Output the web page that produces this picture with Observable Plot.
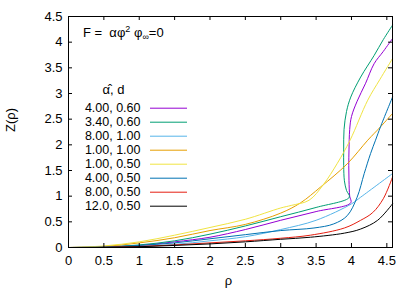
<!DOCTYPE html>
<html><head><meta charset="utf-8">
<script src="https://cdn.jsdelivr.net/npm/d3@7"></script>
<script src="https://cdn.jsdelivr.net/npm/@observablehq/plot@0.6"></script>
<style>body{margin:0;background:#fff}</style>
</head><body><div id="chart"></div>
<script>
const labels = ["4.00, 0.60","3.40, 0.60","8.00, 1.00","1.00, 1.00","1.00, 0.50","4.00, 0.50","8.00, 0.50","12.0, 0.50"];
const colors = ["#9400d3","#009e73","#56b4e9","#e69f00","#f0e442","#0072b2","#e51e10","#000000"];
const xTicks = [0,0.5,1,1.5,2,2.5,3,3.5,4,4.5];
const yTicks = [0,0.5,1,1.5,2,2.5,3,3.5,4,4.5];

const rhoA = [0,0.5,1,1.5,2,2.5,3,3.5,3.99,3.975,3.965,3.962,3.965,3.975,4.0,4.08,4.2,4.32,4.45,4.58];
const zA   = [0,0.01,0.04,0.11,0.20,0.35,0.53,0.70,0.87,1.0,1.3,1.6,1.9,2.3,2.55,2.85,3.2,3.58,3.82,4.07];
const rhoB = [0,0.5,1,1.5,2,2.5,3,3.5,3.97,3.93,3.90,3.89,3.89,3.895,3.93,3.99,4.13,4.32,4.45,4.58];
const zB   = [0,0.01,0.05,0.13,0.26,0.42,0.60,0.78,0.98,1.11,1.3,1.6,1.9,2.3,2.65,2.93,3.32,3.74,4.05,4.33];
const rhoC = [0,0.5,1,1.5,2,2.5,3,3.5,4,4.13,4.58];
const zC   = [0,0.005,0.02,0.06,0.13,0.21,0.35,0.53,0.85,0.98,1.44];
const rhoD = [0,0.5,1,1.5,2,2.5,3,3.28,3.565,3.94,4.23,4.41,4.58];
const zD   = [0,0.02,0.09,0.19,0.33,0.45,0.67,0.87,1.18,1.63,2.09,2.35,2.61];
const rhoE = [0,0.5,1,1.5,2,2.5,3,3.15,3.4,3.6,3.8,3.98,4.23,4.4,4.58];
const zE   = [0,0.03,0.11,0.24,0.39,0.55,0.77,0.82,0.92,1.22,1.64,2.09,2.87,3.27,3.68];
const rhoF = [0,0.5,1,1.5,2,2.5,3,3.47,3.75,3.94,4.08,4.18,4.27,4.34,4.41,4.58];
const zF   = [0,0.01,0.04,0.09,0.17,0.25,0.33,0.38,0.46,0.62,0.98,1.44,1.83,2.09,2.35,2.93];
const rhoG = [0,0.5,1,1.5,2,2.5,3,3.42,3.9,4.13,4.3,4.45,4.58];
const zG   = [0,0.003,0.02,0.05,0.09,0.13,0.18,0.24,0.38,0.53,0.68,0.95,1.37];
const rhoH = [0,0.5,1,1.5,2,2.5,3,3.42,3.9,4.13,4.37,4.58];
const zH   = [0,0.002,0.015,0.04,0.07,0.11,0.16,0.2,0.28,0.36,0.53,0.85];

const series = [[rhoA,zA],[rhoB,zB],[rhoC,zC],[rhoD,zD],[rhoE,zE],[rhoF,zF],[rhoG,zG],[rhoH,zH]];
const rows = series.flatMap(([r,z],i)=> r.map((v,j)=>({label:labels[i], rho:v, z:z[j]})));

const marginLeft=68, marginRight=25, marginTop=16, marginBottom=45, W=417, H=292;
const plotW = W-marginLeft-marginRight, plotH = H-marginTop-marginBottom;
const xDom=[0,4.58], yDom=[0,4.5];
const xinv = p => xDom[0] + (p-marginLeft)/plotW*(xDom[1]-xDom[0]);
const yinv = p => yDom[0] + (H-marginBottom-p)/plotH*(yDom[1]-yDom[0]);

// legend rows placed through the x/y scales
const legend = labels.map((l,i)=>({label:l, y: yinv(107.7 + i*14)}));
const legTextX = xinv(140), legX1 = xinv(150), legX2 = xinv(187);
const fmt = d => String(d);

const chart = Plot.plot({
  width:W, height:H, marginLeft, marginRight, marginTop, marginBottom,
  x:{domain:xDom}, y:{domain:yDom},
  color:{domain:labels, range:colors},
  style:{fontFamily:"'Liberation Sans', Arial, sans-serif", fontSize:"13px", background:"white", color:"black"},
  marks:[
    Plot.line(rows,{x:"rho",y:"z",z:"label",stroke:"label",strokeWidth:1,curve:"catmull-rom"}),
    Plot.frame({stroke:"#000"}),
    Plot.tickX(xTicks,{x:d=>d, insetTop:plotH-4, stroke:"#000"}),
    Plot.tickX(xTicks,{x:d=>d, insetBottom:plotH-4, stroke:"#000"}),
    Plot.tickY(yTicks,{y:d=>d, insetRight:plotW-4, stroke:"#000"}),
    Plot.tickY(yTicks,{y:d=>d, insetLeft:plotW-4, stroke:"#000"}),
    Plot.axisX(xTicks,{tickSize:0, tickPadding:8.5, label:null, fontSize:13, tickFormat:fmt}),
    Plot.axisY(yTicks,{tickSize:0, tickPadding:6, label:null, fontSize:13, tickFormat:fmt}),
    Plot.text(["ρ"],{frameAnchor:"bottom", dy:37, dx:-2, fontSize:13}),
    Plot.text(["Z(ρ)"],{frameAnchor:"left", dx:-58, rotate:-90, fontSize:13}),
    Plot.text(["α̂, d"],{x:xinv(113), y:yinv(89), fontSize:13}),
    Plot.text(legend,{x:legTextX, y:"y", text:"label", textAnchor:"end", fontSize:12.5}),
    Plot.ruleY(legend,{y:"y", x1:legX1, x2:legX2, stroke:"label", strokeWidth:1})
  ]
});
const sx = chart.scale("x"), sy = chart.scale("y");
const svg = d3.select(chart);
const t = svg.append("text").attr("x", sx.apply(xinv(83))).attr("y", sy.apply(yinv(36.5)))
  .attr("text-anchor","start")
  .attr("font-family","'Liberation Sans', Arial, sans-serif").attr("font-size",13).attr("fill","black");
t.append("tspan").text("F =  αφ");
t.append("tspan").attr("dy",-5).attr("font-size",9).text("2");
t.append("tspan").attr("dy",5).text(" φ");
t.append("tspan").attr("dy",3).attr("font-size",9).text("∞");
t.append("tspan").attr("dy",-3).text("=0");
document.getElementById("chart").append(chart);
</script>
</body></html>
